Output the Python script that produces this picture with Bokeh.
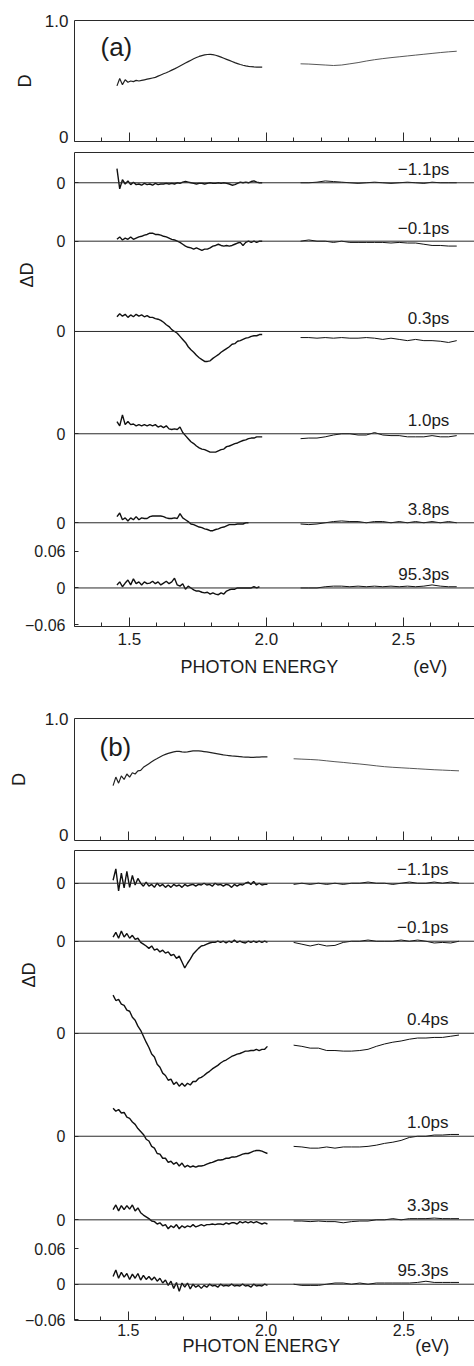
import numpy as np
from bokeh.plotting import figure
from bokeh.layouts import column
from bokeh.models import (Range1d, FixedTicker, SingleIntervalTicker, LinearAxis,
                          Span, Label, Title, PrintfTickFormatter, CustomJSTickFormatter)
from bokeh.embed import file_html
from bokeh.resources import INLINE

nan = float("nan")

# ---------------- data ----------------
# photon-energy sampling of the two spectral segments (eV)
energy_a1 = np.round(1.455 + 0.01 * np.arange(54), 3)
energy_a2 = np.round(2.125 + 0.03 * np.arange(20), 3)
energy_b1 = np.round(1.445 + 0.01 * np.arange(57), 3)
energy_b2 = np.round(2.100 + 0.03 * np.arange(21), 3)

# absorbance D
D_a1 = [0.46, 0.52, 0.47, 0.51, 0.49, 0.50, 0.495, 0.505, 0.50, 0.505,
        0.51, 0.515, 0.52, 0.525, 0.53, 0.54, 0.55, 0.56, 0.568, 0.578,
        0.59, 0.60, 0.612, 0.624, 0.636, 0.648, 0.66, 0.672, 0.684, 0.694,
        0.703, 0.71, 0.716, 0.719, 0.72, 0.718, 0.713, 0.706, 0.697, 0.688,
        0.679, 0.67, 0.661, 0.652, 0.644, 0.636, 0.63, 0.625, 0.621, 0.618,
        0.616, 0.615, 0.614, 0.614]
D_a2 = [0.642, 0.640, 0.636, 0.632, 0.628, 0.632, 0.642, 0.652, 0.665, 0.676,
        0.685, 0.693, 0.700, 0.707, 0.714, 0.721, 0.728, 0.735, 0.741, 0.746]
D_b1 = [0.45, 0.52, 0.47, 0.53, 0.50, 0.545, 0.52, 0.555, 0.545, 0.57,
        0.575, 0.60, 0.615, 0.63, 0.645, 0.66, 0.672, 0.685, 0.697, 0.706,
        0.714, 0.72, 0.726, 0.73, 0.73, 0.727, 0.725, 0.727, 0.731, 0.734,
        0.735, 0.734, 0.732, 0.729, 0.726, 0.722, 0.718, 0.714, 0.71, 0.706,
        0.702, 0.699, 0.696, 0.693, 0.691, 0.689, 0.687, 0.685, 0.684, 0.683,
        0.682, 0.682, 0.683, 0.684, 0.685, 0.686, 0.686]
D_b2 = [0.670, 0.667, 0.664, 0.660, 0.653, 0.646, 0.640, 0.633, 0.627, 0.620,
        0.612, 0.605, 0.600, 0.596, 0.592, 0.588, 0.584, 0.580, 0.577, 0.574, 0.571]

# delay times and vertical offsets of the Delta-D traces
delays_a = ["\u22121.1ps", "\u22120.1ps", "0.3ps", "1.0ps", "3.8ps", "95.3ps"]
delays_b = ["\u22121.1ps", "\u22120.1ps", "0.4ps", "1.0ps", "3.3ps", "95.3ps"]
offsets_a = [0.6625, 0.567, 0.4194, 0.2521, 0.1066, 0.0]
offsets_b = [0.674, 0.5765, 0.4218, 0.2487, 0.1082, 0.0]

# Delta-D traces, in units of 1e-3
dDa_m11_1 = [23, -10, 5, -2, 3, -3, 1, -3, -2, -4, -1, -3, -2, -4, -1, -3, -2, -2, -1, -2,
             -1, -2, 0, -1, 1, 2, 1, 0, -1, -2, -1, -1, -2, -1, 0, -1, -1, 0, -1, 0,
             -1, -2, -4, -3, -1, 1, 0, 1, 0, 2, 3, 1, 0, 0]
dDa_m11_2 = [0, 0, 1, 3, 2, 1, 0, -1, 0, 1, 0, -1, 0, 1, 0, -1, 1, 0, 0, 0]
dDa_m01_1 = [3, 7, 2, 5, 3, 7, 3, 5, 7, 8, 10, 11, 13, 13, 11, 11, 10, 8, 7, 5,
             3, 2, 0, -2, -5, -8, -10, -11, -13, -11, -13, -15, -13, -13, -11, -8, -7, -5, -7, -8,
             -7, -8, -7, -5, -3, -2, -7, -2, 0, -2, 0, -2, 0, 0]
dDa_m01_2 = [0, 2, 0, 0, -2, 0, -2, -2, -2, -2, -2, -3, -2, -3, -3, -5, -7, -7, -8, -8]
dDa_03_1 = [24, 29, 25, 28, 23, 27, 24, 28, 25, 27, 24, 26, 23, 23, 21, 20, 18, 15, 11, 8,
            3, 0, -3, -8, -13, -18, -25, -30, -34, -39, -43, -46, -49, -49, -48, -44, -41, -38, -34, -31,
            -28, -25, -21, -20, -16, -15, -13, -11, -10, -8, -7, -7, -5, -5]
dDa_03_2 = [-10, -10, -11, -10, -11, -10, -11, -11, -10, -11, -13, -11, -13, -15, -13, -15, -15, -16, -18, -15]
dDa_10_1 = [20, 13, 31, 15, 20, 15, 16, 13, 15, 13, 15, 13, 15, 13, 15, 11, 13, 10, 13, 8,
            7, 8, 7, 11, 2, -3, -8, -13, -16, -20, -23, -25, -26, -28, -30, -30, -30, -28, -26, -25,
            -21, -20, -18, -16, -15, -13, -11, -10, -8, -7, -7, -5, -5, -5]
dDa_10_2 = [-8, -7, -7, -5, -2, 0, 0, -2, -2, 2, -2, -3, -3, -5, -5, -5, -3, -5, -5, -3]
dDa_38_1 = [10, 16, 5, 8, 3, 8, 5, 10, 5, 8, 7, 7, 10, 11, 11, 11, 11, 10, 8, 7,
            7, 8, 7, 15, 8, 5, 2, -2, -3, -5, -7, -8, -10, -11, -13, -13, -11, -10, -8, -7,
            -5, -3, -3, -3, -2, -2, -2, 0, 0, nan, nan, nan, nan, nan]
dDa_38_2 = [-2, -3, -2, 0, 2, 3, 2, 2, 0, 2, 2, 0, 2, 0, 2, 0, 2, 0, 2, 0]
dDa_953_1 = [5, 10, 2, 8, 13, 5, 15, 7, 10, 5, 10, 7, 8, 11, 7, 10, 5, 8, 11, 7,
             10, 16, 5, 3, 7, -2, 3, 0, -3, -5, -5, -7, -8, -7, -10, -8, -10, -11, -8, -10,
             -5, -3, -2, -2, 0, 0, 0, 0, 0, 0, 2, 0, 2, nan]
dDa_953_2 = [0, 0, 0, 2, 3, 3, 2, 3, 2, 3, 2, 3, 2, 3, 2, 3, 5, 3, 2, 2]

dDb_m11_1 = [5, 24, -13, 17, -8, 20, -7, 13, -3, 8, 0, -5, 2, -5, -2, -7, 0, -5, -2, -7,
             -3, -7, -2, -5, -3, -7, -2, -5, -3, -2, -5, -2, -3, 0, -3, -2, -5, 0, -3, -2,
             -5, -2, -3, -7, -2, -5, -2, -3, 0, 2, -2, 3, -3, 0, -3, -2, -2]
dDb_m11_2 = [-2, 0, -2, 0, -2, 0, -2, 0, 0, 2, 0, 0, -2, 0, 2, 0, 0, 2, 0, 2, 0]
dDb_m01_1 = [7, 15, 5, 17, 7, 13, 5, 10, 3, 5, -2, -5, -8, -12, -8, -15, -13, -18, -15, -20,
             -18, -24, -22, -29, -25, -35, -45, -37, -30, -22, -17, -12, -8, -7, -5, -3, -2, -2, 0, -2,
             0, -3, 0, -2, 2, -2, 0, -2, -3, 0, -2, 0, -2, 0, -2, 0, -2]
dDb_m01_2 = [-2, -5, -8, -5, -8, -7, -2, 0, 0, 2, 0, 0, 0, 2, 0, 2, 0, -3, -2, -3, 0]
dDb_04_1 = [64, 55, 57, 49, 47, 39, 37, 27, 22, 12, 5, -5, -15, -24, -35, -40, -52, -57, -67, -71,
            -79, -77, -86, -82, -89, -84, -89, -84, -87, -81, -81, -76, -74, -71, -67, -64, -60, -57, -54, -50,
            -47, -45, -42, -39, -37, -35, -34, -32, -30, -30, -29, -29, -27, -29, -27, -27, -22]
dDb_04_2 = [-20, -22, -25, -25, -29, -29, -30, -30, -29, -27, -22, -18, -15, -13, -10, -8, -8, -7, -7, -5, -3]
dDb_10_1 = [47, 42, 45, 39, 40, 32, 30, 24, 20, 13, 8, 3, -5, -8, -17, -20, -29, -30, -37, -37,
            -44, -42, -47, -44, -50, -45, -52, -49, -52, -50, -52, -50, -50, -49, -47, -45, -44, -42, -40, -40,
            -39, -37, -37, -35, -35, -34, -32, -30, -29, -29, -27, -25, -24, -24, -25, -27, -29]
dDb_10_2 = [-17, -18, -20, -20, -18, -20, -18, -18, -18, -17, -15, -12, -10, -7, -2, 0, 0, 2, 2, 3, 3]
dDb_33_1 = [17, 25, 15, 24, 17, 24, 18, 25, 15, 20, 12, 8, 5, 2, -2, -3, -7, -5, -10, -8,
            -15, -10, -13, -8, -15, -10, -13, -10, -12, -8, -12, -10, -8, -10, -8, -8, -7, -8, -7, -7,
            -8, -5, -7, -5, -5, -7, -3, -5, -3, -5, -3, -5, -3, -5, -7, -5, -7]
dDb_33_2 = [-2, -2, -3, -2, -3, -3, -5, -3, -2, -2, 0, 0, 2, 0, 2, 2, 2, 3, 2, 2, 2]
dDb_953_1 = [13, 24, 10, 20, 12, 18, 8, 17, 10, 18, 7, 15, 8, 13, 7, 12, 5, 10, 2, 7,
             -2, 5, -7, 3, -12, 2, -5, 2, -8, 0, -5, -2, -7, -2, -5, 0, -3, -2, -5, 0,
             -3, -2, -3, 0, -3, -2, -3, 0, -3, -2, -5, 0, -3, -2, -3, 0, -2]
dDb_953_2 = [0, -2, -2, -2, 0, 2, 2, 0, 2, 0, 2, 2, 2, 2, 2, 3, 5, 3, 3, 3, 3]

traces_a = [(dDa_m11_1, dDa_m11_2), (dDa_m01_1, dDa_m01_2), (dDa_03_1, dDa_03_2),
            (dDa_10_1, dDa_10_2), (dDa_38_1, dDa_38_2), (dDa_953_1, dDa_953_2)]
traces_b = [(dDb_m11_1, dDb_m11_2), (dDb_m01_1, dDb_m01_2), (dDb_04_1, dDb_04_2),
            (dDb_10_1, dDb_10_2), (dDb_33_1, dDb_33_2), (dDb_953_1, dDb_953_2)]

# ---------------- styling ----------------
FONT = "Liberation Sans"
INK = "#1c1c1c"
AX = "#2a2a2a"
W = 474
NBSP = "\u00a0"


def base_fig(xr, yr, left, top, frame_h, bottom):
    p = figure(width=W, height=top + frame_h + bottom, x_range=xr, y_range=yr,
               min_border_left=left, min_border_right=0, min_border_top=top,
               min_border_bottom=bottom, toolbar_location=None, output_backend="svg",
               outline_line_color=None, x_axis_location=None, y_axis_location=None,
               background_fill_color="white", border_fill_color="white")
    p.grid.visible = False
    topax = LinearAxis(ticker=FixedTicker(ticks=[]), major_label_text_font_size="1px",
                       major_label_text_color=None, major_label_standoff=0,
                       major_tick_in=0, major_tick_out=0, minor_tick_in=0, minor_tick_out=0,
                       axis_line_color=AX, axis_line_width=1)
    p.add_layout(topax, "above")
    return p


def x_axis(p, labels, standoff, size="17px"):
    ax = LinearAxis(ticker=SingleIntervalTicker(interval=0.5, num_minor_ticks=5),
                    formatter=PrintfTickFormatter(format="%.1f"),
                    major_tick_in=9, major_tick_out=0, minor_tick_in=4, minor_tick_out=0,
                    axis_line_color=AX, major_tick_line_color=AX, minor_tick_line_color=AX,
                    major_label_text_font=FONT,
                    major_label_text_color=INK if labels else None,
                    major_label_text_font_size=size if labels else "1px",
                    major_label_standoff=standoff if labels else 0)
    p.add_layout(ax, "below")


def label(p, x, y, text, size, xo=0, yo=0, align="left", base="middle"):
    p.add_layout(Label(x=x, y=y, x_offset=xo, y_offset=yo, text=text,
                       text_font=FONT, text_font_size=size, text_color=INK,
                       text_align=align, text_baseline=base))


def d_panel(xr, left, top, frame_h, bottom, e1, e2, D1, D2, tag, tag_xo, tag_yo,
            dlab_standoff, zero_at):
    p = base_fig(xr, Range1d(0, 1), left, top, frame_h, bottom)
    x_axis(p, False, 0)
    yax = LinearAxis(ticker=FixedTicker(ticks=[zero_at, 1]),
                     formatter=CustomJSTickFormatter(code='return tick == 1 ? "1.0" : "0"'),
                     major_tick_in=0, major_tick_out=0, minor_tick_in=0, minor_tick_out=0,
                     axis_line_color=AX, major_label_text_font=FONT, major_label_text_color=INK,
                     major_label_text_font_size="17px", major_label_standoff=6,
                     axis_label="D", axis_label_standoff=dlab_standoff,
                     axis_label_text_font=FONT, axis_label_text_font_size="18px",
                     axis_label_text_font_style="normal", axis_label_text_color=INK)
    p.add_layout(yax, "left")
    p.line(e1, D1, line_color="#222", line_width=1.2)
    p.line(e2, D2, line_color="#444", line_width=0.9)
    label(p, xr.start, 1.0, tag, "26px", xo=tag_xo, yo=tag_yo)
    return p


def dd_panel(xr, yr, left, top, frame_h, bottom, e1, e2, traces, offsets, delays,
             lab_x, lab_yo, dl_offset, dl_standoff, tick_standoff, tick_size,
             title_offset, title_standoff):
    p = base_fig(xr, yr, left, top, frame_h, bottom)
    x_axis(p, True, tick_standoff, tick_size)
    p.add_layout(Title(text="PHOTON ENERGY" + NBSP * 15 + "(eV)", align="left",
                       offset=title_offset, standoff=title_standoff, vertical_align="top",
                       text_font=FONT, text_font_size="18px", text_font_style="normal",
                       text_color=INK), "below")
    ticks = sorted(set([-0.06, 0.0, 0.06] + offsets))
    yax = LinearAxis(ticker=FixedTicker(ticks=ticks),
                     formatter=CustomJSTickFormatter(
                         code='if (Math.abs(tick - 0.06) < 1e-9) return "0.06";'
                              'if (Math.abs(tick + 0.06) < 1e-9) return "\u22120.06";'
                              'return "0";'),
                     major_tick_in=4, major_tick_out=0, minor_tick_in=0, minor_tick_out=0,
                     axis_line_color=AX, major_tick_line_color=AX,
                     major_label_text_font=FONT, major_label_text_color=INK,
                     major_label_text_font_size="16px", major_label_standoff=9)
    p.add_layout(yax, "left")
    p.add_layout(Title(text="\u0394D", align="left", offset=dl_offset, standoff=dl_standoff,
                       vertical_align="bottom", text_font=FONT, text_font_size="18px",
                       text_font_style="normal", text_color=INK), "left")
    for (s1, s2), off, dl in zip(traces, offsets, delays):
        p.add_layout(Span(location=off, dimension="width", line_color=AX, line_width=1))
        p.line(e1, off + np.array(s1, dtype=float) / 1000.0, line_color="#111", line_width=1.4)
        p.line(e2, off + np.array(s2, dtype=float) / 1000.0, line_color="#111", line_width=1.0)
        label(p, lab_x, off, dl, "17px", yo=lab_yo, align="right", base="alphabetic")
    return p


xr_a = Range1d(1.30, 1.30 + 400 / 274.0)
xr_b = Range1d(1.305, 1.305 + 402 / 277.0)

pa_D = d_panel(xr_a, 74, 20, 121, 6, energy_a1, energy_a2, D_a1, D_a2,
               "(a)", 26, -26, 7, 0.04)
pa_dD = dd_panel(xr_a, Range1d(-0.063, 0.712), 74, 5, 474, 70, energy_a1, energy_a2,
                 traces_a, offsets_a, delays_a, 2.668, 13, 339, -28, 6, "17px", 106, 19)
pb_D = d_panel(xr_b, 72, 22, 122, 5, energy_b1, energy_b2, D_b1, D_b2,
               "(b)", 25, -28, 13, 0.045)
pb_dD = dd_panel(xr_b, Range1d(-0.061, 0.729), 72, 5, 470, 46, energy_b1, energy_b2,
                 traces_b, offsets_b, delays_b, 2.662, 14, 333, -32, 3, "16px", 108, -6)

layout = column(pa_D, pa_dD, pb_D, pb_dD, spacing=0)

open("out.html", "w").write(file_html(layout, INLINE))
